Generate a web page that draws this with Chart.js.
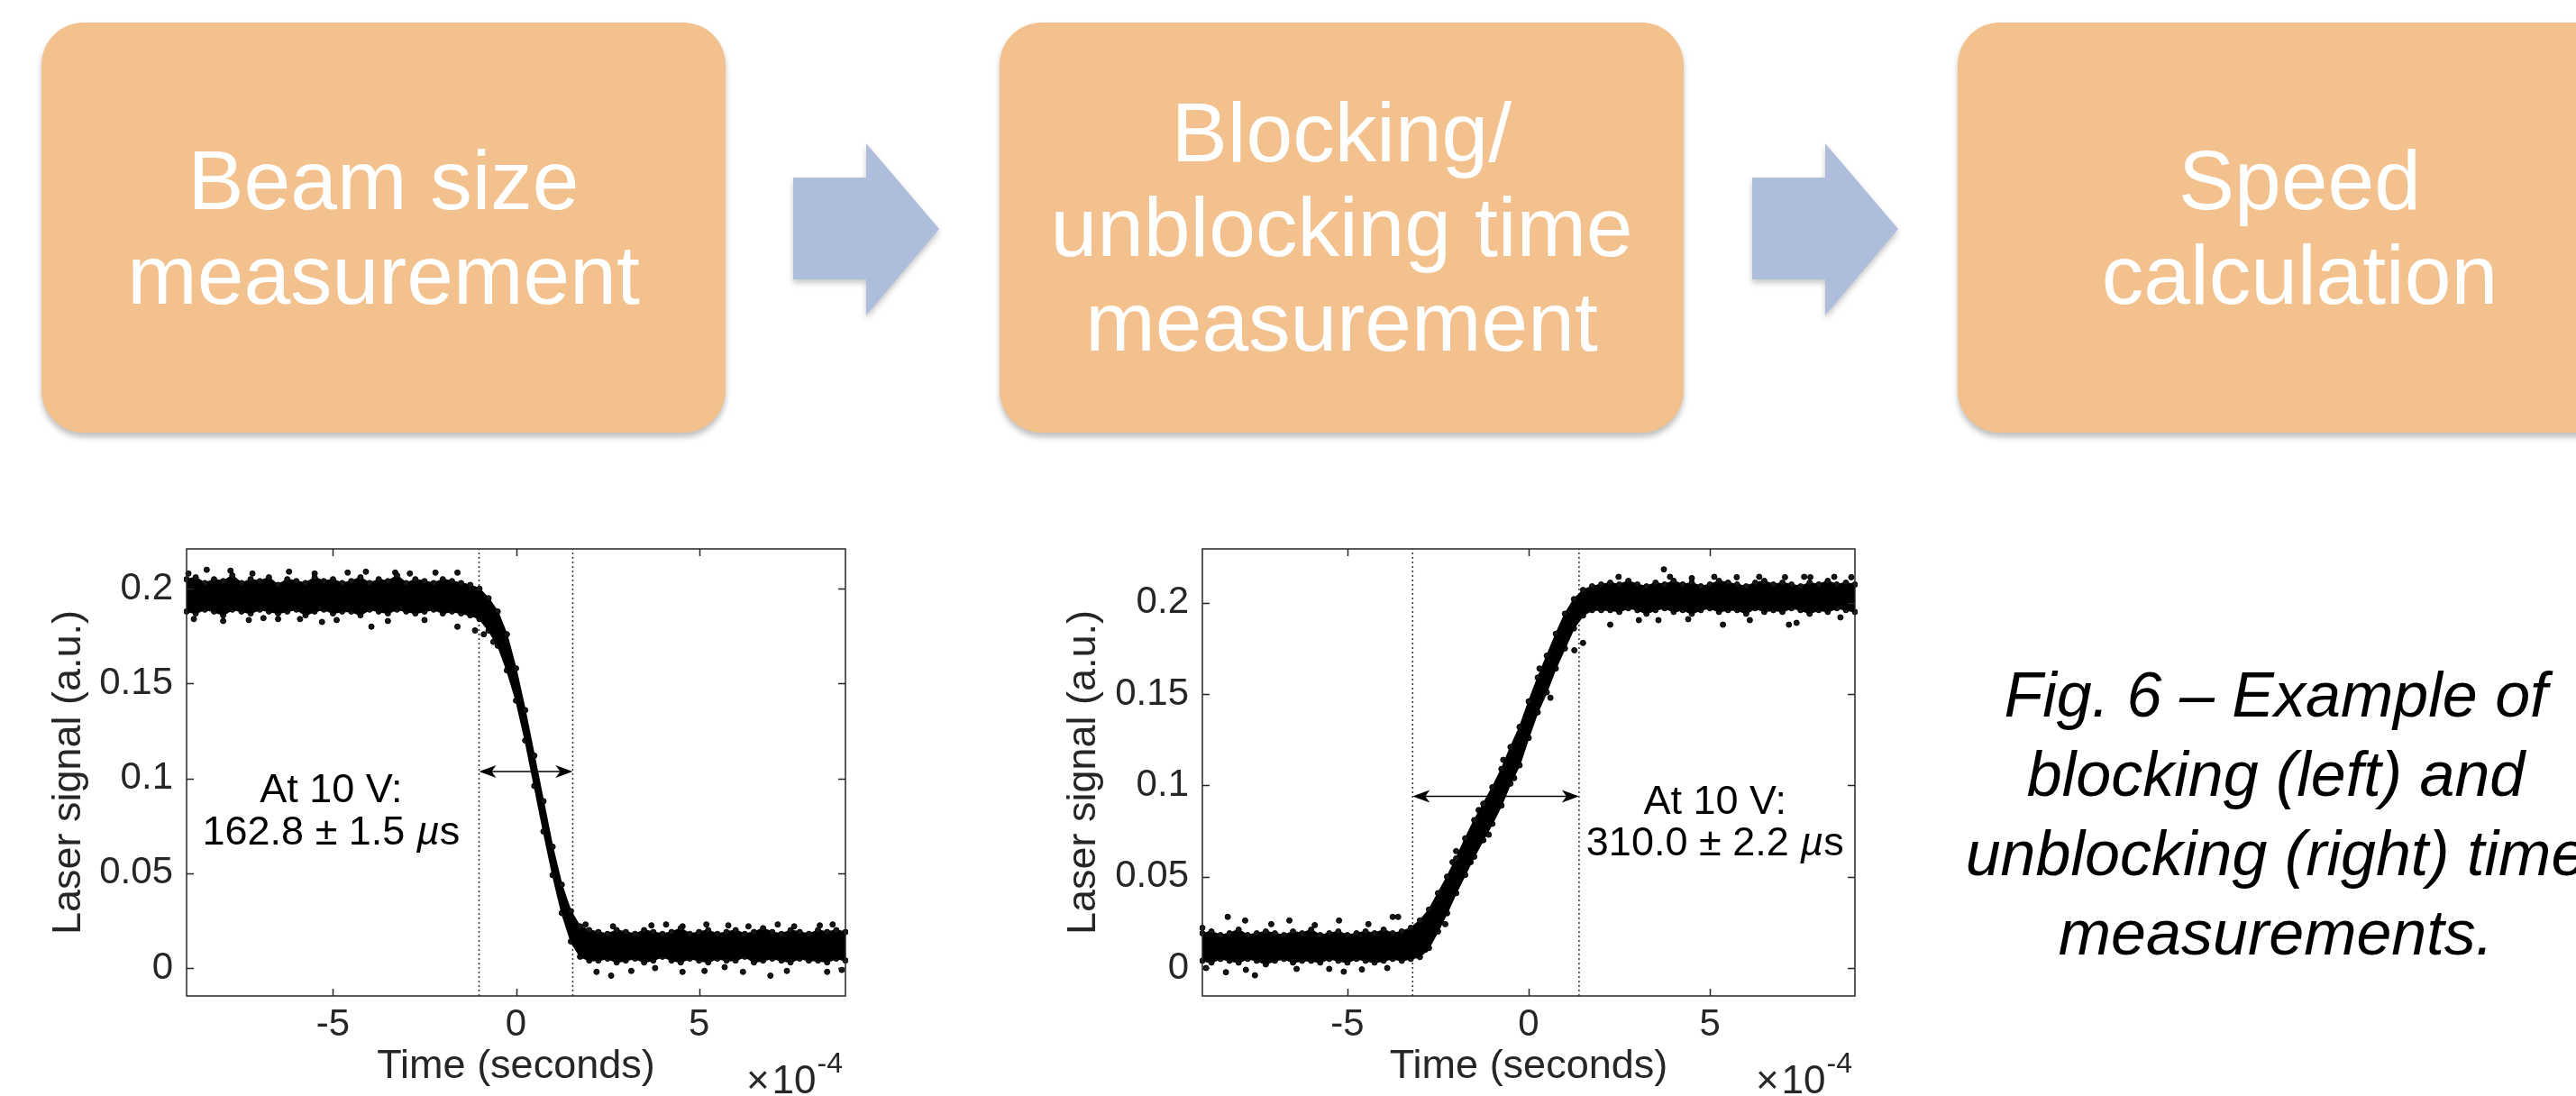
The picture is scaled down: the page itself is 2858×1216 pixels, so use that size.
<!DOCTYPE html>
<html>
<head>
<meta charset="utf-8">
<title>Blocking / unblocking time measurement</title>
<script src="https://cdn.jsdelivr.net/npm/chart.js@4.4.1/dist/chart.umd.min.js"></script>
<style>
  html, body { margin: 0; padding: 0; background: #fff; }
  body { position: relative; width: 2858px; height: 1216px; overflow: hidden;
         font-family: "Liberation Sans", Arial, sans-serif; }
  .step { position: absolute; top: 25px; width: 759px; height: 455px; border-radius: 47px;
          background: #f3c18e; box-shadow: 0 5px 6px rgba(0,0,0,0.25);
          display: flex; align-items: center; justify-content: center; text-align: center;
          color: #fff; font-size: 93px; line-height: 105px; white-space: nowrap; }
  .arrow { position: absolute; top: 159px; width: 162px; height: 191px;
           filter: drop-shadow(0 4px 3px rgba(0,0,0,0.22)); }
  .arrow div { width: 100%; height: 100%; background: #afbddc;
               clip-path: polygon(0 38px, 81px 38px, 81px 0, 162px 95px, 81px 191px, 81px 151px, 0 151px); }
  .caption { position: absolute; left: 2125px; top: 727px; width: 800px; text-align: center;
             font-style: italic; font-size: 70px; line-height: 88px; white-space: nowrap; color: #000; }
  canvas { position: absolute; top: 560px; }
</style>
</head>
<body>
<div class="step" style="left:46px">Beam size<br>measurement</div>
<div class="arrow" style="left:880px"><div></div></div>
<div class="step" style="left:1109px">Blocking/<br>unblocking time<br>measurement</div>
<div class="arrow" style="left:1944px"><div></div></div>
<div class="step" style="left:2172px">Speed<br>calculation</div>

<canvas id="blocking_chart" width="980" height="656" style="left:0px"></canvas>
<canvas id="unblocking_chart" width="980" height="656" style="left:1110px"></canvas>

<div class="caption">Fig. 6 – Example of<br>blocking (left) and<br>unblocking (right) time<br>measurements.</div>

<script>
// time in units of 1e-4 s (axis shows x10^-4)
const sampleTime = [-9, -8.75, -8.5, -8.25, -8, -7.75, -7.5, -7.25, -7, -6.75, -6.5, -6.25, -6, -5.75, -5.5, -5.25,
    -5, -4.75, -4.5, -4.25, -4, -3.75, -3.5, -3.25, -3, -2.75, -2.5, -2.25, -2, -1.75, -1.5, -1.25,
    -1, -0.75, -0.5, -0.25, 0, 0.25, 0.5, 0.75, 1, 1.25, 1.5, 1.75, 2, 2.25, 2.5, 2.75,
    3, 3.25, 3.5, 3.75, 4, 4.25, 4.5, 4.75, 5, 5.25, 5.5, 5.75, 6, 6.25, 6.5, 6.75,
    7, 7.25, 7.5, 7.75, 8, 8.25, 8.5, 8.75, 9];

// blocking trace (left): top and bottom edge of the dense band of samples
const blockUpper = [0.205, 0.206, 0.203, 0.205, 0.204, 0.207, 0.203, 0.205, 0.204, 0.206, 0.202, 0.205, 0.204, 0.203, 0.206, 0.204,
    0.205, 0.203, 0.204, 0.206, 0.203, 0.205, 0.204, 0.207, 0.203, 0.205, 0.204, 0.203, 0.205, 0.204, 0.203, 0.202,
    0.200, 0.195, 0.188, 0.176, 0.158, 0.136, 0.112, 0.088, 0.064, 0.044, 0.030, 0.022, 0.020,
    0.019, 0.018, 0.020, 0.019, 0.018, 0.020, 0.019, 0.018, 0.019, 0.021, 0.018, 0.019, 0.020, 0.018,
    0.019, 0.020, 0.018, 0.019, 0.021, 0.019, 0.018, 0.020, 0.019, 0.018, 0.020, 0.019, 0.020, 0.019];
const blockLower = [0.188, 0.187, 0.189, 0.188, 0.186, 0.189, 0.188, 0.187, 0.189, 0.188, 0.187, 0.188, 0.189, 0.186, 0.188, 0.189,
    0.187, 0.188, 0.188, 0.186, 0.189, 0.188, 0.187, 0.189, 0.188, 0.187, 0.188, 0.189, 0.187, 0.188, 0.187, 0.186,
    0.184, 0.178, 0.170, 0.157, 0.141, 0.120, 0.096, 0.072, 0.049, 0.029, 0.014, 0.006, 0.004,
    0.004, 0.005, 0.003, 0.004, 0.005, 0.003, 0.004, 0.006, 0.004, 0.003, 0.005, 0.004, 0.003, 0.005,
    0.004, 0.004, 0.006, 0.003, 0.004, 0.005, 0.004, 0.003, 0.005, 0.004, 0.004, 0.003, 0.005, 0.004];
const blockStrayTime = [-8.95, -8.45, -7.8, -7.2, -6.2, -5.5, -4.6, -4.1, -3.3, -2.9, -2.2, -1.6,
    -8.8, -8.0, -7.3, -6.9, -6.5, -5.9, -5.3, -4.9, -3.95, -3.5, -2.5, -1.6, -1.12, -0.88, -0.62,
    1.9, 2.65, 3.7, 4.1, 4.55, 5.2, 5.8, 6.35, 7.15, 7.6, 8.3, 8.65,
    2.2, 2.6, 3.15, 3.8, 4.55, 5.15, 5.7, 6.2, 6.95, 7.4, 8.5, 8.9];
const blockStraySignal = [0.208, 0.210, 0.2095, 0.208, 0.209, 0.208, 0.2085, 0.209, 0.2085, 0.208, 0.2085, 0.2085,
    0.184, 0.183, 0.1835, 0.1845, 0.184, 0.184, 0.1825, 0.1835, 0.180, 0.183, 0.1835, 0.180, 0.178, 0.176, 0.172,
    0.023, 0.022, 0.0225, 0.023, 0.022, 0.023, 0.0225, 0.022, 0.023, 0.022, 0.0225, 0.023,
    -0.002, -0.004, -0.0015, 0.0, -0.002, -0.0015, 0.0005, -0.002, -0.004, -0.0015, -0.002, -0.001];
const blockMarkers = [-1.01, 1.55];
const blockArrowLevel = 0.1036;
const blockRange = [-0.0147, 0.221];

// unblocking trace (right)
const unblockUpper = [0.019, 0.020, 0.018, 0.019, 0.021, 0.018, 0.019, 0.020, 0.019, 0.018, 0.020, 0.019, 0.021, 0.018, 0.019, 0.020,
    0.018, 0.019, 0.020, 0.019, 0.021, 0.019, 0.020,
    0.022, 0.026, 0.032, 0.041, 0.050, 0.060, 0.071, 0.081, 0.090, 0.099, 0.109, 0.121, 0.132, 0.146, 0.159, 0.171,
    0.183, 0.194, 0.202, 0.207, 0.209, 0.210,
    0.211, 0.210, 0.212, 0.210, 0.209, 0.211, 0.210, 0.212, 0.210, 0.211, 0.209, 0.210, 0.212, 0.211,
    0.210, 0.209, 0.211, 0.212, 0.210, 0.211, 0.210, 0.209, 0.211, 0.210, 0.212, 0.210, 0.211, 0.210];
const unblockLower = [0.004, 0.003, 0.005, 0.004, 0.003, 0.005, 0.004, 0.002, 0.004, 0.005, 0.003, 0.004, 0.004, 0.003, 0.005, 0.004,
    0.003, 0.005, 0.004, 0.003, 0.004, 0.005, 0.004,
    0.005, 0.006, 0.011, 0.020, 0.030, 0.041, 0.051, 0.061, 0.070, 0.079, 0.089, 0.101, 0.111, 0.126, 0.140, 0.151,
    0.164, 0.175, 0.186, 0.193, 0.196, 0.196,
    0.196, 0.195, 0.197, 0.196, 0.194, 0.196, 0.197, 0.195, 0.196, 0.194, 0.196, 0.197, 0.195, 0.196,
    0.196, 0.194, 0.197, 0.195, 0.196, 0.195, 0.197, 0.196, 0.194, 0.196, 0.195, 0.197, 0.196, 0.195];
const unblockStrayTime = [-9.0, -8.3, -7.82, -7.1, -6.6, -5.9, -5.23, -4.42, -3.75, -3.6,
    -8.9, -8.35, -7.8, -7.55, -6.4, -5.5, -5.1, -4.6, -3.9,
    -2.85, -2.3, -2.1, -2.0, -1.6, -1.38, -1.1, -0.7, -0.4, 0.3, 0.6, 1.26, 1.5,
    2.48, 3.73, 3.9, 4.5, 5.12, 5.74, 6.36, 7.07, 7.6, 7.77, 8.43, 8.9,
    2.25, 3.04, 3.58, 4.4, 5.36, 6.1, 7.18, 7.39, 8.6];
const unblockStraySignal = [0.022, 0.028, 0.026, 0.024, 0.026, 0.0235, 0.026, 0.024, 0.028, 0.028,
    0.000, -0.0023, -0.001, -0.004, -0.0005, -0.0005, -0.002, -0.0008, 0.0,
    0.010, 0.024, 0.058, 0.064, 0.058, 0.0865, 0.073, 0.114, 0.104, 0.164, 0.148, 0.174, 0.178,
    0.2142, 0.2183, 0.2142, 0.2135, 0.2142, 0.214, 0.2142, 0.214, 0.2142, 0.214, 0.2142, 0.214,
    0.188, 0.1905, 0.1905, 0.191, 0.188, 0.1905, 0.188, 0.189, 0.192];
const unblockMarkers = [-3.2, 1.39];
const unblockArrowLevel = 0.094;
const unblockRange = [-0.0153, 0.2295];

const timeTicks = [-5, 0, 5];
const signalTicks = [0, 0.05, 0.1, 0.15, 0.2];

const FONT = '"Liberation Sans", Arial, sans-serif';
Chart.defaults.font.family = FONT;
Chart.defaults.color = '#262626';

function toPoints(times, values) {
    return times.map(function(t, i) { return { x: t, y: values[i] }; });
}

function arrowHead(ctx, tipX, tipY, dir) {
    const len = 19, half = 7, notch = 5;
    ctx.beginPath();
    ctx.moveTo(tipX, tipY);
    ctx.lineTo(tipX - dir * len, tipY - half);
    ctx.lineTo(tipX - dir * (len - notch), tipY);
    ctx.lineTo(tipX - dir * len, tipY + half);
    ctx.closePath();
    ctx.fill();
}

// box, inward ticks, double arrow, note text and the x10^-4 multiplier
const matlabDecor = {
    id: 'matlabDecor',
    afterDatasetsDraw(chart, args, opts) {
        const ctx = chart.ctx;
        const a = chart.chartArea;
        const x = chart.scales.x, y = chart.scales.y;
        ctx.save();

        ctx.strokeStyle = '#262626';
        ctx.lineWidth = 1.5;
        ctx.strokeRect(a.left, a.top, a.right - a.left, a.bottom - a.top);
        ctx.beginPath();
        x.ticks.forEach(function(t) {
            const px = Math.round(x.getPixelForValue(t.value)) + 0.5;
            ctx.moveTo(px, a.bottom); ctx.lineTo(px, a.bottom - 8);
            ctx.moveTo(px, a.top); ctx.lineTo(px, a.top + 8);
        });
        y.ticks.forEach(function(t) {
            const py = Math.round(y.getPixelForValue(t.value)) + 0.5;
            ctx.moveTo(a.left, py); ctx.lineTo(a.left + 8, py);
            ctx.moveTo(a.right, py); ctx.lineTo(a.right - 8, py);
        });
        ctx.stroke();

        // double-headed arrow between the two markers
        const x0 = x.getPixelForValue(opts.markers[0]);
        const x1 = x.getPixelForValue(opts.markers[1]);
        const py = y.getPixelForValue(opts.arrowLevel);
        ctx.strokeStyle = '#000';
        ctx.fillStyle = '#000';
        ctx.lineWidth = 1.5;
        ctx.beginPath();
        ctx.moveTo(x0 + 6, py); ctx.lineTo(x1 - 6, py);
        ctx.stroke();
        arrowHead(ctx, x0, py, -1);
        arrowHead(ctx, x1, py, 1);

        // note
        const cx = x.getPixelForValue(opts.noteTime);
        ctx.textBaseline = 'alphabetic';
        ctx.textAlign = 'center';
        ctx.font = '45px ' + FONT;
        ctx.fillText(opts.noteHead, cx, y.getPixelForValue(opts.noteLevels[0]));
        const parts = [[opts.noteValue, '45px ' + FONT], ['µ', 'italic 45px ' + FONT], ['s', '45px ' + FONT]];
        let total = 0;
        parts.forEach(function(p) { ctx.font = p[1]; total += ctx.measureText(p[0]).width; });
        let left = cx - total / 2;
        const base2 = y.getPixelForValue(opts.noteLevels[1]);
        ctx.textAlign = 'left';
        parts.forEach(function(p) {
            ctx.font = p[1];
            ctx.fillText(p[0], left, base2);
            left += ctx.measureText(p[0]).width;
        });

        // x10^-4 multiplier under the right end of the axis
        ctx.fillStyle = '#262626';
        ctx.textAlign = 'right';
        const right = a.right - 3, base = a.bottom + 108;
        ctx.font = '32px ' + FONT;
        const wExp = ctx.measureText('-4').width;
        ctx.fillText('-4', right, base - 23);
        ctx.font = '44px ' + FONT;
        ctx.fillText('10', right - wExp - 1, base);
        const wTen = ctx.measureText('10').width;
        ctx.fillText('×', right - wExp - wTen - 4, base);

        ctx.restore();
    }
};

function renderTimingChart(canvasId, s) {
    const ctx = document.getElementById(canvasId).getContext('2d');
    const dotStyle = {
        pointRadius: 3,
        pointBackgroundColor: '#161616',
        pointBorderColor: '#000',
        pointBorderWidth: 1,
        tension: 0,
        clip: 3
    };
    const markerStyle = {
        borderColor: '#333',
        borderWidth: 1.5,
        borderDash: [2, 3],
        pointRadius: 0,
        fill: false,
        clip: false
    };
    return new Chart(ctx, {
        type: 'line',
        data: {
            datasets: [
                Object.assign({
                    data: toPoints(sampleTime, s.upper),
                    borderColor: '#000',
                    borderWidth: 1.5,
                    backgroundColor: '#000',
                    fill: '+1'
                }, dotStyle),
                Object.assign({
                    data: toPoints(sampleTime, s.lower),
                    borderColor: '#000',
                    borderWidth: 1.5,
                    fill: false
                }, dotStyle),
                Object.assign({
                    data: toPoints(s.strayTime, s.straySignal),
                    showLine: false
                }, dotStyle),
                Object.assign({
                    data: [{ x: s.markers[0], y: s.range[0] }, { x: s.markers[0], y: s.range[1] }]
                }, markerStyle),
                Object.assign({
                    data: [{ x: s.markers[1], y: s.range[0] }, { x: s.markers[1], y: s.range[1] }]
                }, markerStyle)
            ]
        },
        options: {
            responsive: false,
            animation: false,
            devicePixelRatio: 1,
            layout: { padding: { top: 49, right: s.padRight, left: 0, bottom: 0 } },
            plugins: {
                legend: { display: false },
                tooltip: { enabled: false },
                matlabDecor: {
                    markers: s.markers,
                    arrowLevel: s.arrowLevel,
                    noteTime: s.noteTime,
                    noteLevels: s.noteLevels,
                    noteHead: 'At 10 V:',
                    noteValue: s.noteValue
                }
            },
            scales: {
                x: {
                    type: 'linear',
                    position: 'bottom',
                    min: -9,
                    max: 9,
                    afterBuildTicks: function(scale) {
                        scale.ticks = timeTicks.map(function(v) { return { value: v }; });
                    },
                    afterFit: function(scale) { scale.height = 111; },
                    grid: { display: false, drawTicks: false },
                    border: { display: false },
                    ticks: {
                        padding: 7,
                        font: { size: 42 },
                        color: '#262626',
                        callback: function(v) { return String(v); }
                    },
                    title: {
                        display: true,
                        text: 'Time (seconds)',
                        font: { size: 45 },
                        color: '#262626',
                        padding: { top: 0, bottom: 5 }
                    }
                },
                y: {
                    type: 'linear',
                    position: 'left',
                    min: s.range[0],
                    max: s.range[1],
                    afterBuildTicks: function(scale) {
                        scale.ticks = signalTicks.map(function(v) { return { value: v }; });
                    },
                    afterFit: function(scale) { scale.width = s.axisWidth; },
                    grid: { display: false, drawTicks: false },
                    border: { display: false },
                    ticks: {
                        padding: 15,
                        font: { size: 42 },
                        color: '#262626',
                        callback: function(v) { return String(v); }
                    },
                    title: {
                        display: true,
                        text: 'Laser signal (a.u.)',
                        font: { size: 45 },
                        color: '#262626',
                        padding: { top: s.titlePad, bottom: 0 }
                    }
                }
            }
        },
        plugins: [matlabDecor]
    });
}

renderTimingChart('blocking_chart', {
    upper: blockUpper,
    lower: blockLower,
    strayTime: blockStrayTime,
    straySignal: blockStraySignal,
    markers: blockMarkers,
    arrowLevel: blockArrowLevel,
    range: blockRange,
    noteTime: -5.05,
    noteLevels: [0.0874, 0.065],
    noteValue: '162.8 ± 1.5 ',
    axisWidth: 207,
    titlePad: 50,
    padRight: 42
});

renderTimingChart('unblocking_chart', {
    upper: unblockUpper,
    lower: unblockLower,
    strayTime: unblockStrayTime,
    straySignal: unblockStraySignal,
    markers: unblockMarkers,
    arrowLevel: unblockArrowLevel,
    range: unblockRange,
    noteTime: 5.14,
    noteLevels: [0.0844, 0.0617],
    noteValue: '310.0 ± 2.2 ',
    axisWidth: 224,
    titlePad: 66,
    padRight: 32
});
</script>
</body>
</html>
